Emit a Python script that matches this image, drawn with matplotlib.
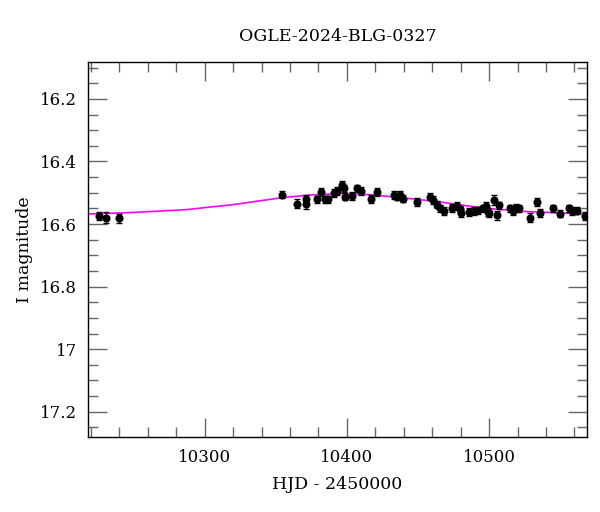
import matplotlib
matplotlib.use("Agg")
import matplotlib.pyplot as plt
from matplotlib.ticker import MultipleLocator, FixedLocator

title = "OGLE-2024-BLG-0327"
xlabel = "HJD - 2450000"
ylabel = "I magnitude"

hjd = [10225.5, 10230.6, 10239.5, 10354.3, 10365.0, 10371.3, 10371.3, 10379.0,
       10382.0, 10384.8, 10386.9, 10391.1, 10392.9, 10396.5, 10398.1, 10398.8,
       10403.9, 10407.0, 10409.8, 10417.0, 10421.0, 10432.9, 10435.0, 10437.6,
       10439.7, 10449.1, 10458.7, 10460.7, 10463.1, 10465.7, 10468.3, 10473.8,
       10477.3, 10479.4, 10479.9, 10486.2, 10489.2, 10492.4, 10495.7, 10497.6,
       10499.0, 10500.1, 10503.4, 10505.3, 10506.9, 10514.4, 10516.7, 10519.0,
       10521.0, 10528.9, 10533.7, 10535.5, 10544.6, 10549.6, 10556.5, 10558.6,
       10561.6, 10567.7]
mag = [16.573, 16.580, 16.582, 16.506, 16.535, 16.519, 16.537, 16.521,
       16.498, 16.521, 16.521, 16.500, 16.495, 16.476, 16.486, 16.512,
       16.510, 16.486, 16.495, 16.520, 16.498, 16.507, 16.512, 16.507,
       16.519, 16.529, 16.512, 16.523, 16.538, 16.550, 16.558, 16.548,
       16.542, 16.553, 16.564, 16.561, 16.558, 16.556, 16.550, 16.542,
       16.561, 16.566, 16.523, 16.572, 16.540, 16.550, 16.558, 16.548,
       16.550, 16.580, 16.529, 16.565, 16.550, 16.567, 16.550, 16.558,
       16.557, 16.574]
err = [0.013, 0.018, 0.014, 0.012, 0.014, 0.013, 0.015, 0.012,
       0.012, 0.012, 0.012, 0.012, 0.012, 0.012, 0.012, 0.012,
       0.012, 0.012, 0.012, 0.012, 0.012, 0.012, 0.012, 0.012,
       0.012, 0.012, 0.012, 0.012, 0.012, 0.012, 0.012, 0.012,
       0.012, 0.012, 0.012, 0.012, 0.012, 0.012, 0.012, 0.012,
       0.012, 0.012, 0.016, 0.014, 0.012, 0.012, 0.012, 0.012,
       0.012, 0.014, 0.012, 0.012, 0.012, 0.012, 0.012, 0.012,
       0.012, 0.014]

model_x = [10218, 10250, 10287, 10320, 10354, 10375, 10395, 10415, 10435,
           10463, 10496, 10526, 10569]
model_y = [16.568, 16.563, 16.554, 16.538, 16.516, 16.507, 16.503, 16.506,
           16.514, 16.528, 16.549, 16.560, 16.568]

plt.rcParams['font.family'] = ['DejaVu Serif']

fig = plt.figure(figsize=(6.0, 5.12), dpi=100)
ax = fig.add_axes([0.1467, 0.147, 0.8313, 0.7319])

ax.plot(model_x, model_y, color='#ff00ff', lw=1.2, zorder=2)
ax.errorbar(hjd, mag, yerr=err, fmt='o', color='black', ms=4.8,
            elinewidth=1.0, capsize=2.5, capthick=1.0, zorder=3)

ax.set_xlim(10218, 10568.7)
ax.set_ylim(17.28, 16.082)

ax.xaxis.set_major_locator(MultipleLocator(100))
ax.xaxis.set_minor_locator(MultipleLocator(20))
ax.yaxis.set_major_locator(FixedLocator([16.2, 16.4, 16.6, 16.8, 17.0, 17.2]))
ax.yaxis.set_minor_locator(MultipleLocator(0.05))
ax.set_yticklabels(['16.2', '16.4', '16.6', '16.8', '17', '17.2'])

ax.tick_params(which='both', direction='in', top=True, right=True,
               color='#666666', width=1.0, labelsize=12)
ax.tick_params(which='major', length=14)
ax.tick_params(which='minor', length=7)
ax.tick_params(axis='y', which='major', pad=8)
ax.tick_params(axis='x', which='major', pad=9)

for s in ax.spines.values():
    s.set_linewidth(1.0)
    s.set_color('black')

ax.set_title(title, fontsize=12.5, pad=15)
ax.set_xlabel(xlabel, fontsize=12.5, labelpad=7)
ax.set_ylabel(ylabel, fontsize=12.5, labelpad=5)

fig.savefig("out.png", dpi=100)
